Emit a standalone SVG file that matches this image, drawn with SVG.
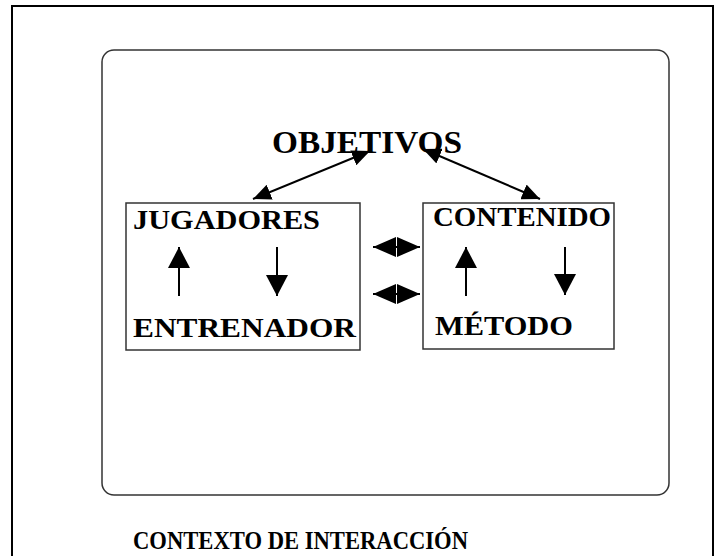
<svg xmlns="http://www.w3.org/2000/svg" width="715" height="556" viewBox="0 0 715 556">
<defs>
<style>
.lbl{font-family:"Liberation Serif","Times New Roman",serif;font-weight:bold;fill:#000;}
.box{fill:#fff;stroke:#333;stroke-width:1.5;}
.ar{stroke:#000;stroke-width:2;fill:none;}
</style>
<marker id="hd" markerUnits="userSpaceOnUse" markerWidth="20" markerHeight="16" refX="18" refY="8" orient="auto-start-reverse" viewBox="0 0 20 16">
<path d="M0,0 L18,8 L0,16 Z" fill="#000"/>
</marker>
<marker id="hv" markerUnits="userSpaceOnUse" markerWidth="22" markerHeight="22" refX="21" refY="11" orient="auto-start-reverse" viewBox="0 0 22 22">
<path d="M0,0 L21,11 L0,22 Z" fill="#000"/>
</marker>
<marker id="hh" markerUnits="userSpaceOnUse" markerWidth="24" markerHeight="20" refX="23" refY="10" orient="auto-start-reverse" viewBox="0 0 24 20">
<path d="M0,0 L23,10 L0,20 Z" fill="#000"/>
</marker>
</defs>
<rect x="0" y="0" width="715" height="556" fill="#fff"/>
<path d="M12,556 L12,6 L713,6 L713,556" fill="none" stroke="#000" stroke-width="2"/>
<g id="contexto">
<rect x="102" y="50" width="567" height="445" rx="12" ry="12" fill="none" stroke="#333" stroke-width="1.5"/>
<text class="lbl" x="133" y="549" font-size="26" textLength="335" lengthAdjust="spacingAndGlyphs">CONTEXTO DE INTERACCIÓN</text>
</g>
<g id="objetivos">
<text class="lbl" x="272" y="153" font-size="32" textLength="190" lengthAdjust="spacingAndGlyphs">OBJETIVOS</text>
</g>
<g id="jugadores-entrenador">
<rect class="box" x="126" y="203" width="234" height="147"/>
<text class="lbl" x="133" y="229" font-size="28" textLength="187" lengthAdjust="spacingAndGlyphs">JUGADORES</text>
<text class="lbl" x="133" y="337" font-size="28" textLength="223" lengthAdjust="spacingAndGlyphs">ENTRENADOR</text>
</g>
<g id="contenido-metodo">
<rect class="box" x="423" y="203" width="191" height="146"/>
<text class="lbl" x="433" y="226" font-size="28" textLength="178" lengthAdjust="spacingAndGlyphs">CONTENIDO</text>
<text class="lbl" x="435" y="335" font-size="28" textLength="138" lengthAdjust="spacingAndGlyphs">MÉTODO</text>
</g>
<g id="connectors">
<line class="ar" x1="253" y1="199" x2="370" y2="151" marker-start="url(#hd)" marker-end="url(#hd)"/>
<line class="ar" x1="423" y1="149" x2="540" y2="199" marker-start="url(#hd)" marker-end="url(#hd)"/>
<line class="ar" x1="179" y1="296" x2="179" y2="247" marker-end="url(#hv)"/>
<line class="ar" x1="277" y1="247" x2="277" y2="296" marker-end="url(#hv)"/>
<line class="ar" x1="466" y1="296" x2="466" y2="247" marker-end="url(#hv)"/>
<line class="ar" x1="565" y1="247" x2="565" y2="295" marker-end="url(#hv)"/>
<line class="ar" x1="373" y1="247" x2="420" y2="247" marker-start="url(#hh)" marker-end="url(#hh)"/>
<line class="ar" x1="373" y1="294" x2="420" y2="294" marker-start="url(#hh)" marker-end="url(#hh)"/>
</g>
</svg>
